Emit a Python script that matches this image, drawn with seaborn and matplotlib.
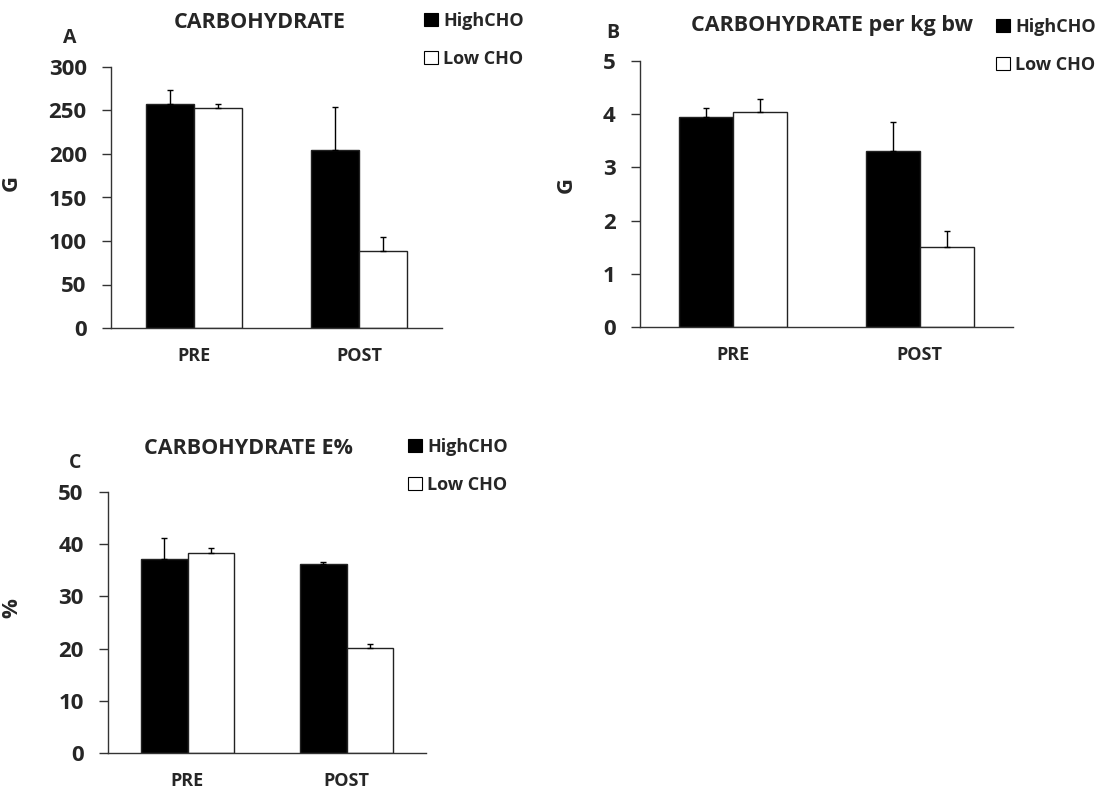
import matplotlib
matplotlib.use("Agg")
import matplotlib.pyplot as plt
import seaborn as sns
import pandas as pd

# Diet data: group means and SD (upper error only)
categories = ["PRE", "POST"]
groups = ["HighCHO", "Low CHO"]

carb_high = [258, 205]
carb_low = [253, 89]
carb_high_err = [15, 49]
carb_low_err = [5, 16]

carbkg_high = [3.94, 3.31]
carbkg_low = [4.05, 1.50]
carbkg_high_err = [0.17, 0.54]
carbkg_low_err = [0.23, 0.30]

carbe_high = [37.2, 36.3]
carbe_low = [38.4, 20.1]
carbe_high_err = [3.9, 0.2]
carbe_low_err = [0.9, 0.8]

sns.set_style("white")
plt.rcParams["font.family"] = ["Open Sans", "DejaVu Sans"]
plt.rcParams["font.weight"] = "bold"

W, H = 1120, 792
fig = plt.figure(figsize=(W / 100, H / 100), dpi=100)


def box(left, right, bottom, top):
    return [left / W, 1 - bottom / H, (right - left) / W, (bottom - top) / H]


def panel(rect, high, low, high_err, low_err, ymax, ystep, title, title_xy,
          letter, letter_xy, ylabel, ylabel_xy, legend_xy):
    ax = fig.add_axes(rect)
    df = pd.DataFrame({
        "phase": categories * 2,
        "group": [groups[0]] * 2 + [groups[1]] * 2,
        "value": list(high) + list(low),
    })
    sns.barplot(data=df, x="phase", y="value", hue="group", order=categories,
                hue_order=groups, palette={groups[0]: "black", groups[1]: "white"},
                edgecolor="#222222", linewidth=1.0, width=0.58, gap=0,
                errorbar=None, ax=ax)
    # upward-only error bars on each bar
    for cont, errs in zip(ax.containers, [high_err, low_err]):
        for bar, e in zip(cont.patches, errs):
            xc = bar.get_x() + bar.get_width() / 2
            ax.errorbar([xc], [bar.get_height()], yerr=[[0], [e]], fmt="none",
                        ecolor="black", elinewidth=1.0, capsize=2.5,
                        capthick=1.0, zorder=3)
    ax.set_xlim(-0.5, 1.5)
    ax.set_ylim(0, ymax)
    ax.set_yticks([i * ystep for i in range(int(round(ymax / ystep)) + 1)])
    ax.set_yticklabels([f"{v:g}" for v in ax.get_yticks()], fontsize=16,
                       fontweight="bold")
    ax.set_xticks([0, 1])
    ax.set_xticklabels(categories, fontsize=13, fontweight="bold")
    ax.set_xticks([-0.5, 0.5, 1.5], minor=True)
    ax.tick_params(axis="x", which="major", length=0, pad=14)
    ax.tick_params(axis="x", which="minor", length=5.5, width=1, direction="out",
                   color="#333333")
    ax.tick_params(axis="y", length=6.5, width=1, direction="out", color="#333333",
                   pad=11, left=True)
    for s in ["top", "right"]:
        ax.spines[s].set_visible(False)
    for s in ["left", "bottom"]:
        ax.spines[s].set_color("#333333")
        ax.spines[s].set_linewidth(1.0)
    ax.set_xlabel("")
    ax.set_ylabel(ylabel, fontsize=16, fontweight="bold")
    ax.yaxis.set_label_coords(*ylabel_xy)
    ax.text(*title_xy, title, transform=ax.transAxes, ha="center", va="center",
            fontsize=15.5, fontweight="bold")
    ax.text(*letter_xy, letter, transform=ax.transAxes, ha="center", va="center",
            fontsize=14, fontweight="bold")
    handles, labels = ax.get_legend_handles_labels()
    if ax.get_legend() is not None:
        ax.get_legend().remove()
    leg = ax.legend(handles, labels, loc="upper left",
                    bbox_to_anchor=(legend_xy[0] / W, 1 - legend_xy[1] / H),
                    bbox_transform=fig.transFigure, frameon=False,
                    handlelength=0.75, handleheight=0.75, handletextpad=0.3,
                    labelspacing=1.1, borderpad=0, borderaxespad=0,
                    prop={"size": 13, "weight": "bold"})
    for h in leg.legend_handles:
        h.set_edgecolor("black")
        h.set_linewidth(0.8)
    return ax


panel(box(111, 442, 328, 67), carb_high, carb_low, carb_high_err, carb_low_err,
      300, 50, "CARBOHYDRATE", (0.45, 1.172), "A", (-0.125, 1.11),
      "G", (-0.269, 0.556), (424, 12))

panel(box(640, 1013, 327, 61), carbkg_high, carbkg_low, carbkg_high_err,
      carbkg_low_err, 5, 1, "CARBOHYDRATE per kg bw", (0.515, 1.135), "B",
      (-0.072, 1.104), "G", (-0.169, 0.534), (996, 18))

panel(box(108, 426, 753, 492), carbe_high, carbe_low, carbe_high_err,
      carbe_low_err, 50, 10, "CARBOHYDRATE E%", (0.443, 1.167), "C",
      (-0.104, 1.112), "%", (-0.27, 0.554), (408, 438))

fig.savefig("out.png", dpi=100)
